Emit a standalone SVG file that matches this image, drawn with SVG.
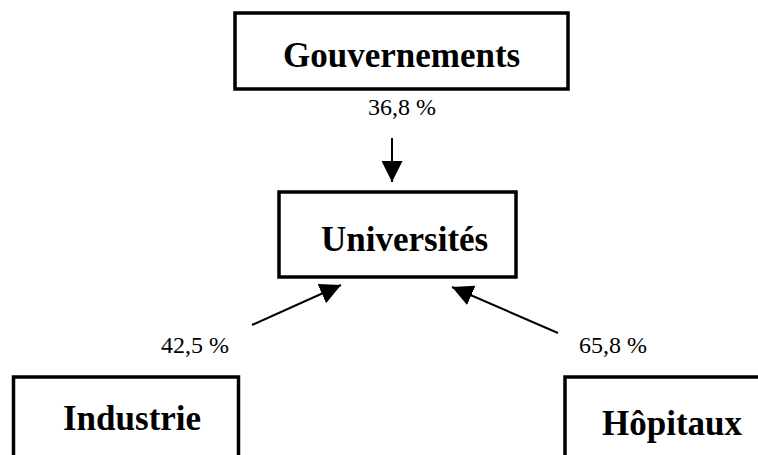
<svg xmlns="http://www.w3.org/2000/svg" width="758" height="455" viewBox="0 0 758 455">
<style>
.box{fill:#fff;stroke:#000;stroke-width:3.5}
.t{font-family:"Liberation Serif","Times New Roman",serif;font-weight:bold;font-size:35px;fill:#000}
.p{font-family:"Liberation Serif","Times New Roman",serif;font-size:24px;fill:#000}
.c{stroke:#000;stroke-width:2;fill:none;marker-end:url(#ah)}
</style>
<defs>
<marker id="ah" viewBox="0 0 21 21" markerWidth="21" markerHeight="21" markerUnits="userSpaceOnUse" refX="21" refY="10.5" orient="auto">
<path d="M0,0 L21,10.5 L0,21 z" fill="#000"/>
</marker>
</defs>
<rect width="758" height="455" fill="#fff"/>
<g id="gouvernements">
<rect class="box" x="235" y="13" width="333" height="76"/>
<text class="t" x="283" y="67">Gouvernements</text>
</g>
<g id="universites">
<rect class="box" x="279" y="192" width="237" height="85"/>
<text class="t" x="321" y="251">Universités</text>
</g>
<g id="industrie">
<rect class="box" x="13.5" y="377" width="225" height="100"/>
<text class="t" x="63" y="430">Industrie</text>
</g>
<g id="hopitaux">
<rect class="box" x="565" y="377" width="250" height="100"/>
<text class="t" x="602" y="435">Hôpitaux</text>
</g>
<g id="connectors">
<line class="c" x1="392" y1="138" x2="392" y2="182"/>
<line class="c" x1="252" y1="325" x2="341" y2="285"/>
<line class="c" x1="558" y1="333" x2="452" y2="287"/>
<text class="p" x="368" y="115">36,8 %</text>
<text class="p" x="161" y="353">42,5 %</text>
<text class="p" x="579" y="353">65,8 %</text>
</g>
</svg>
